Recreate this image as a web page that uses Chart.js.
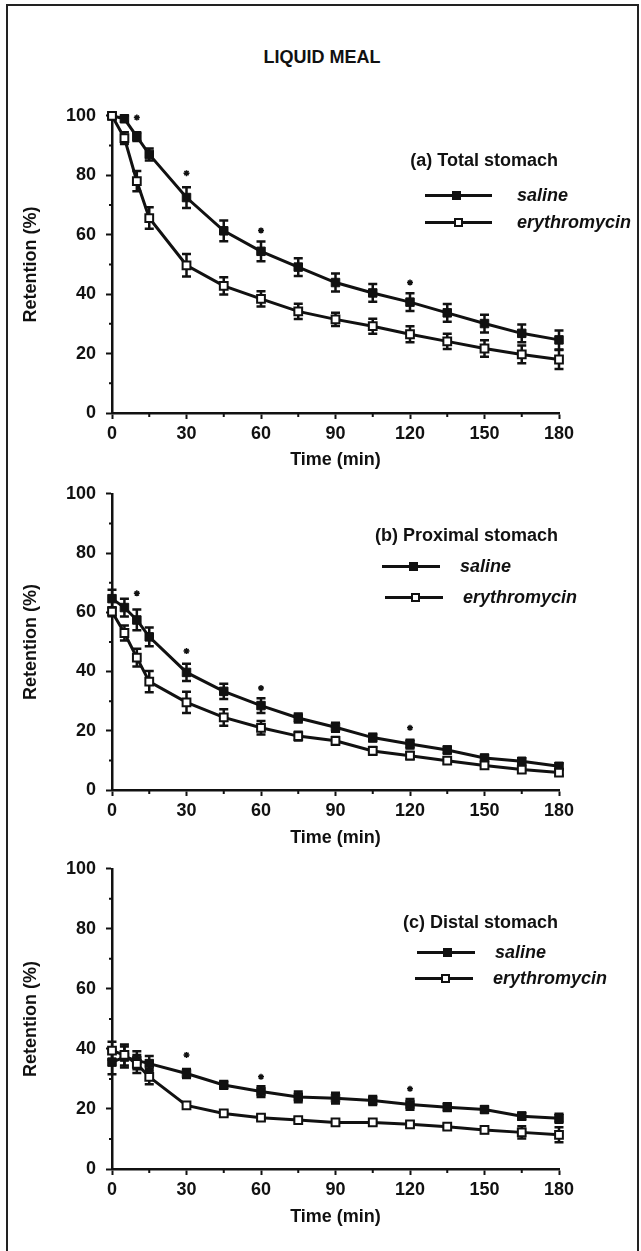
<!DOCTYPE html>
<html>
<head>
<meta charset="utf-8">
<script src="https://cdn.jsdelivr.net/npm/chart.js@4/dist/chart.umd.min.js"></script>
<style>
    body { margin: 0; background: #fff; }
    #page { position: relative; width: 641px; height: 1251px; overflow: hidden; background: #fff;
        font-family: "Liberation Sans", Arial, sans-serif; font-weight: bold; color: #111; }
    #frame { position: absolute; left: 6px; top: 4px; width: 629px; height: 1260px; border: 2px solid #222; }
    canvas { position: absolute; left: 0; }
    .txt { position: absolute; font-size: 18px; line-height: 22px; white-space: nowrap; }
    .title { left: 0; width: 644px; text-align: center; }
    .legtitle { right: 83px; }
    .item { font-style: italic; }
    .seg { position: absolute; height: 0; border-top: 3px solid #111; }
    .mark { position: absolute; width: 9px; height: 9px; box-sizing: border-box; border: 2px solid #111; background: #fff; }
    .mark.filled { background: #111; }
</style>
</head>
<body>
<div id="page">
    <div id="frame"></div>
    <div class="txt title" style="top:46px">LIQUID MEAL</div>

    <canvas id="chart-a" width="641" height="376" style="top:95px"></canvas>
    <canvas id="chart-b" width="641" height="376" style="top:473px"></canvas>
    <canvas id="chart-c" width="641" height="380" style="top:848px"></canvas>

    <!-- legends -->
    <div class="txt legtitle" style="top:149px">(a) Total stomach</div>
    <div class="seg" style="left:425px; width:67px; top:194px"></div>
    <div class="mark filled" style="left:452px; top:191px"></div>
    <div class="txt item" style="left:517px; top:184px">saline</div>
    <div class="seg" style="left:425px; width:67px; top:221px"></div>
    <div class="mark" style="left:454px; top:218px"></div>
    <div class="txt item" style="left:517px; top:211px">erythromycin</div>

    <div class="txt legtitle" style="top:524px">(b) Proximal stomach</div>
    <div class="seg" style="left:382px; width:58px; top:565px"></div>
    <div class="mark filled" style="left:409px; top:562px"></div>
    <div class="txt item" style="left:460px; top:555px">saline</div>
    <div class="seg" style="left:385px; width:58px; top:596px"></div>
    <div class="mark" style="left:411px; top:593px"></div>
    <div class="txt item" style="left:463px; top:586px">erythromycin</div>

    <div class="txt legtitle" style="top:911px">(c) Distal stomach</div>
    <div class="seg" style="left:417px; width:58px; top:951px"></div>
    <div class="mark filled" style="left:443px; top:948px"></div>
    <div class="txt item" style="left:495px; top:941px">saline</div>
    <div class="seg" style="left:415px; width:58px; top:977px"></div>
    <div class="mark" style="left:441px; top:974px"></div>
    <div class="txt item" style="left:493px; top:967px">erythromycin</div>
</div>

<script>
    // sampling times (min)
    const times = [0, 5, 10, 15, 30, 45, 60, 75, 90, 105, 120, 135, 150, 165, 180];

    // (a) total stomach
    const totalSaline = [100, 99, 93, 87, 72.5, 61.3, 54.4, 49.1, 43.9, 40.4, 37.3, 33.7, 30.1, 26.8, 24.6];
    const totalSalineErr = [0, 1, 1.5, 2, 3.5, 3.5, 3.3, 3, 3, 3, 3, 3, 3, 3, 3.2];
    const totalEry = [100, 92.5, 78, 65.6, 49.7, 42.8, 38.4, 34.2, 31.5, 29.2, 26.5, 24.1, 21.7, 19.7, 18];
    const totalEryErr = [0, 2, 3.4, 3.6, 3.8, 2.9, 2.6, 2.6, 2.2, 2.5, 2.7, 2.6, 2.8, 3, 3.2];
    const totalStarTimes = [10, 30, 60, 120];
    const totalStarValues = [99.4, 80.7, 61.4, 43.9];

    // (b) proximal stomach
    const proxSaline = [64.6, 61.6, 57.4, 51.7, 39.7, 33.3, 28.5, 24.3, 21.2, 17.7, 15.5, 13.5, 10.8, 9.7, 8];
    const proxSalineErr = [3, 3, 3.5, 3.2, 2.9, 2.6, 2.5, 1.5, 1.5, 1.3, 1.5, 1.2, 1, 1, 1];
    const proxEry = [60.2, 53, 44.7, 36.6, 29.6, 24.5, 21, 18.2, 16.6, 13.2, 11.6, 9.9, 8.3, 6.9, 5.9];
    const proxEryErr = [1.5, 2.5, 3, 3.6, 3.6, 2.8, 2.3, 1.5, 1.3, 1.3, 1.2, 1, 1, 1, 1];
    const proxStarTimes = [10, 30, 60, 120];
    const proxStarValues = [66.4, 46.9, 34.4, 21];

    // (c) distal stomach
    const distSaline = [35.6, 37.3, 36.2, 35.1, 31.8, 28, 25.8, 24, 23.6, 22.8, 21.5, 20.6, 19.8, 17.6, 16.9];
    const distSalineErr = [4, 3.5, 3, 2.5, 1.5, 1.3, 1.8, 1.8, 1.8, 1.5, 1.8, 1.3, 1, 1.2, 1.5];
    const distEry = [39.4, 38, 35, 30.7, 21.2, 18.5, 17.1, 16.3, 15.5, 15.5, 14.9, 14.1, 13, 12.2, 11.4];
    const distEryErr = [3, 3.5, 3, 2.5, 1, 0.8, 0.8, 0.8, 0.8, 0.8, 0.8, 0.8, 1, 2, 2.5];
    const distStarTimes = [30, 60, 120];
    const distStarValues = [38, 30.7, 26.7];

    const INK = '#111';
    const NONE = 'rgba(0,0,0,0)';
    Chart.defaults.font.family = '"Liberation Sans", Arial, sans-serif';
    Chart.defaults.font.weight = 'bold';
    Chart.defaults.font.size = 18;
    Chart.defaults.color = INK;

    // vertical error bars with caps, drawn under the markers
    const errorBars = {
        id: 'errorBars',
        beforeDatasetsDraw(chart) {
            const { ctx, scales: { x, y } } = chart;
            ctx.save();
            ctx.strokeStyle = INK;
            ctx.lineWidth = 2.5;
            chart.data.datasets.forEach(ds => {
                if (!ds.errors) return;
                ds.data.forEach((p, i) => {
                    const e = ds.errors[i];
                    if (!e) return;
                    const px = x.getPixelForValue(p.x);
                    const top = y.getPixelForValue(p.y + e);
                    const bot = y.getPixelForValue(p.y - e);
                    ctx.beginPath();
                    ctx.moveTo(px, top); ctx.lineTo(px, bot);
                    ctx.moveTo(px - 4.5, top); ctx.lineTo(px + 4.5, top);
                    ctx.moveTo(px - 4.5, bot); ctx.lineTo(px + 4.5, bot);
                    ctx.stroke();
                });
            });
            ctx.restore();
        }
    };

    // short minor ticks (the library draws only the long major ones)
    const minorTicks = {
        id: 'minorTicks',
        afterDraw(chart) {
            const { ctx, scales: { x, y } } = chart;
            ctx.save();
            ctx.strokeStyle = INK;
            ctx.lineWidth = 2;
            ctx.beginPath();
            y.ticks.forEach(t => {
                if (t.value % 20 === 0) return;
                const py = y.getPixelForValue(t.value);
                ctx.moveTo(x.left - 3, py); ctx.lineTo(x.left, py);
            });
            x.ticks.forEach(t => {
                if (t.value % 30 === 0) return;
                const px = x.getPixelForValue(t.value);
                ctx.moveTo(px, y.bottom); ctx.lineTo(px, y.bottom + 4);
            });
            ctx.stroke();
            ctx.restore();
        }
    };

    const toPoints = (xs, ys) => xs.map((t, i) => ({ x: t, y: ys[i] }));

    function buildPanel(canvasId, plotHeight, saline, salineErr, ery, eryErr, starTimes, starValues) {
        const canvas = document.getElementById(canvasId);
        const topPad = 15;
        const xHeight = canvas.height - topPad - plotHeight;
        return new Chart(canvas, {
            type: 'line',
            data: {
                datasets: [
                    {
                        label: 'significance',
                        data: toPoints(starTimes, starValues),
                        showLine: false,
                        pointStyle: 'star',
                        pointRadius: 3,
                        pointBorderWidth: 1.5,
                        pointBorderColor: INK,
                        clip: false
                    },
                    {
                        label: 'erythromycin',
                        data: toPoints(times, ery),
                        errors: eryErr,
                        borderColor: INK,
                        borderWidth: 3,
                        pointStyle: 'rect',
                        pointRadius: 5.5,
                        pointBackgroundColor: '#fff',
                        pointBorderColor: INK,
                        pointBorderWidth: 2,
                        clip: false
                    },
                    {
                        label: 'saline',
                        data: toPoints(times, saline),
                        errors: salineErr,
                        borderColor: INK,
                        borderWidth: 3,
                        pointStyle: 'rect',
                        pointRadius: 6,
                        pointBackgroundColor: INK,
                        pointBorderColor: INK,
                        pointBorderWidth: 1,
                        clip: false
                    }
                ]
            },
            options: {
                responsive: false,
                animation: false,
                devicePixelRatio: 1,
                layout: { padding: { top: topPad, left: 20, right: 82, bottom: 0 } },
                plugins: { legend: { display: false }, tooltip: { enabled: false } },
                scales: {
                    x: {
                        type: 'linear',
                        min: 0,
                        max: 180,
                        ticks: {
                            stepSize: 15,
                            autoSkip: false,
                            maxRotation: 0,
                            padding: 4,
                            callback: v => (v % 30 === 0 ? String(v) : '')
                        },
                        grid: {
                            drawOnChartArea: false, tickLength: 6, tickWidth: 2,
                            tickColor: c => (c.tick && c.tick.value % 30 === 0 ? INK : NONE)
                        },
                        border: { width: 2.5, color: INK },
                        title: { display: true, text: 'Time (min)', padding: 0 },
                        afterFit: scale => { scale.height = xHeight; }
                    },
                    y: {
                        min: 0,
                        max: 100,
                        ticks: {
                            stepSize: 10,
                            autoSkip: false,
                            padding: 10,
                            callback: v => (v % 20 === 0 ? String(v) : '')
                        },
                        grid: {
                            drawOnChartArea: false, tickLength: 6, tickWidth: 2,
                            tickColor: c => (c.tick && c.tick.value % 20 === 0 ? INK : NONE)
                        },
                        border: { width: 2.5, color: INK },
                        title: { display: true, text: 'Retention (%)', padding: 0 },
                        afterFit: scale => { scale.width = 92; }
                    }
                }
            },
            plugins: [errorBars, minorTicks]
        });
    }

    buildPanel('chart-a', 303, totalSaline, totalSalineErr, totalEry, totalEryErr, totalStarTimes, totalStarValues);
    buildPanel('chart-b', 302, proxSaline, proxSalineErr, proxEry, proxEryErr, proxStarTimes, proxStarValues);
    buildPanel('chart-c', 306, distSaline, distSalineErr, distEry, distEryErr, distStarTimes, distStarValues);
</script>
</body>
</html>
